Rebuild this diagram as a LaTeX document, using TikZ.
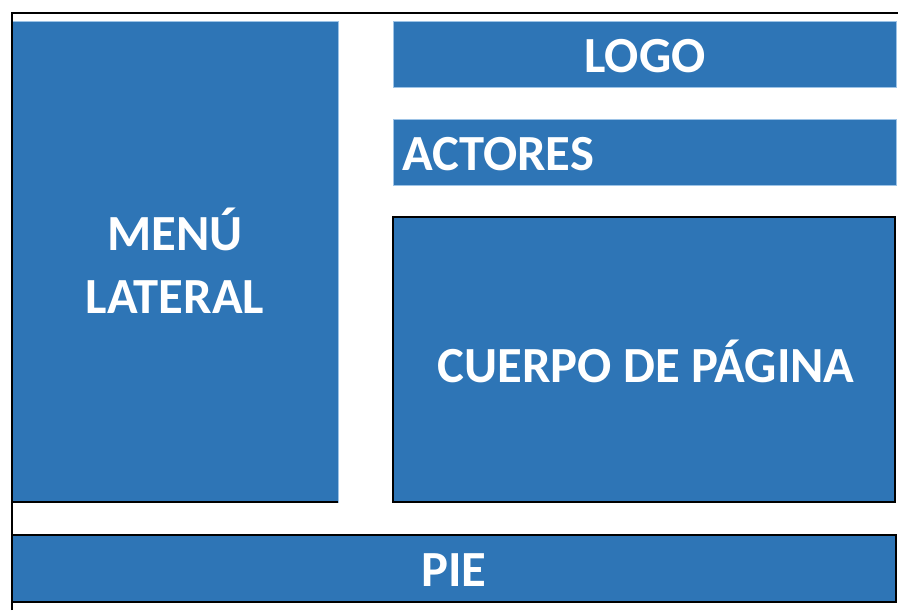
\documentclass[tikz,border=0pt]{standalone}
\usepackage{fontspec}
\setmainfont{Carlito}
\usepackage{xcolor}
\usepackage{tikz}
\usetikzlibrary{positioning}
\definecolor{bloque}{HTML}{2E75B6}
\definecolor{bordeclaro}{HTML}{9DC3E6}

\begin{document}
\begin{tikzpicture}[x=0.025cm,y=-0.025cm,
	caja/.style={fill=bloque,draw=bordeclaro,line width=0.6pt},
	cajanegra/.style={fill=bloque,draw=black,line width=2pt},
	rotulo/.style={text=white,font=\bfseries\fontsize{36}{45}\selectfont,inner sep=0pt}]
	\useasboundingbox (0,0) rectangle (898,610);
	\fill[caja] (12,21) rectangle (338,502);
	\draw[line width=2pt] (12,502) -- (338,502);
	\fill[caja] (393,21) rectangle (896,87);
	\fill[caja] (393,119) rectangle (896,185);
	\filldraw[cajanegra] (393,217) rectangle (895,502);
	\filldraw[cajanegra] (12,535) rectangle (896,602);
	\draw[line width=2pt] (12,610) -- (12,13) -- (898,13);
	\node[rotulo,align=center] (menu) at (175,261) {MENÚ\\LATERAL};
	\node[rotulo] (logo) at (645,56) {LOGO};
	\node[rotulo,anchor=west] (actores) at (402,154) {ACTORES};
	\node[rotulo] (cuerpo) at (646,361) {CUERPO DE PÁGINA};
	\node[rotulo] (pie) at (454,570) {PIE};
\end{tikzpicture}
\end{document}
